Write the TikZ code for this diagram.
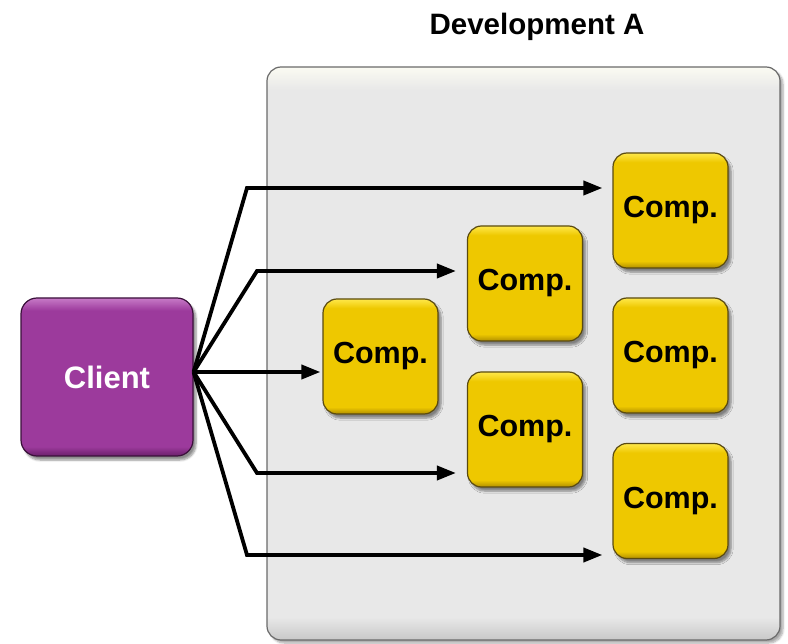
\documentclass[tikz,border=0pt]{standalone}
\usepackage{fontspec}
\setmainfont{Liberation Sans}
\usetikzlibrary{arrows.meta,shadows.blur,calc}

\definecolor{ybase}{HTML}{EEC800}
\definecolor{ylight}{HTML}{FFE84A}
\definecolor{ydark}{HTML}{B08E00}
\definecolor{yborder}{HTML}{5A4A10}
\definecolor{pbase}{HTML}{9C3A9C}
\definecolor{plight}{HTML}{C77AC7}
\definecolor{pdark}{HTML}{6A1F6A}
\definecolor{pborder}{HTML}{3A103A}
\definecolor{gbase}{HTML}{E8E8E8}
\definecolor{glight}{HTML}{FBFBF2}
\definecolor{gdark}{HTML}{C8C8C8}
\definecolor{gborder}{HTML}{6A6A6A}

% bevelled fills: dark rim at the bottom, light rim at the top
\pgfdeclareverticalshading{compshade}{100bp}{color(0bp)=(ydark); color(25bp)=(ydark); color(28bp)=(ybase); color(71bp)=(ybase); color(75bp)=(ylight); color(100bp)=(ylight)}
\pgfdeclareverticalshading{clientshade}{100bp}{color(0bp)=(pdark); color(25bp)=(pdark); color(28bp)=(pbase); color(71bp)=(pbase); color(75bp)=(plight); color(100bp)=(plight)}
\pgfdeclareverticalshading{devshade}{100bp}{color(0bp)=(gdark); color(25bp)=(gdark); color(27bp)=(gbase); color(73bp)=(gbase); color(75bp)=(glight); color(100bp)=(glight)}

\tikzset{
  devbox/.style={draw=gborder, line width=1.2pt, rounded corners=14pt,
    shading=devshade, minimum width=513pt, minimum height=573pt,
    blur shadow={shadow xshift=3pt, shadow yshift=-3pt, shadow blur steps=6, shadow opacity=35}},
  compbox/.style={draw=yborder, line width=1.2pt, rounded corners=14pt,
    shading=compshade, minimum width=115pt, minimum height=115pt,
    font=\fontsize{30.5}{36}\selectfont\bfseries, text=black,
    blur shadow={shadow xshift=3pt, shadow yshift=-4pt, shadow blur steps=6, shadow opacity=45}},
  clientbox/.style={draw=pborder, line width=1.2pt, rounded corners=16pt,
    shading=clientshade, minimum width=172pt, minimum height=158pt,
    font=\fontsize{31}{37}\selectfont\bfseries, text=white,
    blur shadow={shadow xshift=3pt, shadow yshift=-4pt, shadow blur steps=6, shadow opacity=45}},
  link/.style={line width=3.8pt, line join=miter, -{Triangle[length=19pt,width=14pt]}},
}

\begin{document}
\begin{tikzpicture}[x=1pt,y=-1pt]
\useasboundingbox (0,0) rectangle (788,644);

\node[font=\fontsize{29.5}{35}\selectfont\bfseries] (title) at (537,27) {Development A};

\node[devbox] (dev) at (523.5,353.5) {};

\node[clientbox] (client) at (107,377) {Client};

\node[compbox] (c1) at (380.5,356.5) {Comp.};
\node[compbox] (c2) at (525,283.5) {Comp.};
\node[compbox] (c3) at (525,429.5) {Comp.};
\node[compbox] (c4) at (670.5,210.5) {Comp.};
\node[compbox] (c5) at (670.5,355.5) {Comp.};
\node[compbox] (c6) at (670.5,501) {Comp.};

% fan-out point and bends of the connectors
\coordinate (fan) at ($(client.east)+(0,-5)$);
\coordinate (b4) at (247,188);
\coordinate (b2) at (257,271);
\coordinate (b3) at (257,473);
\coordinate (b6) at (247,555);

\draw[link, shorten >=10pt] (fan) -- (b4) -- (b4 -| c4.west);
\draw[link, shorten >=11pt] (fan) -- (b2) -- (b2 -| c2.west);
\draw[link, shorten >=2pt] (fan) -- (fan -| c1.west);
\draw[link, shorten >=11pt] (fan) -- (b3) -- (b3 -| c3.west);
\draw[link, shorten >=10pt] (fan) -- (b6) -- (b6 -| c6.west);
\end{tikzpicture}
\end{document}
